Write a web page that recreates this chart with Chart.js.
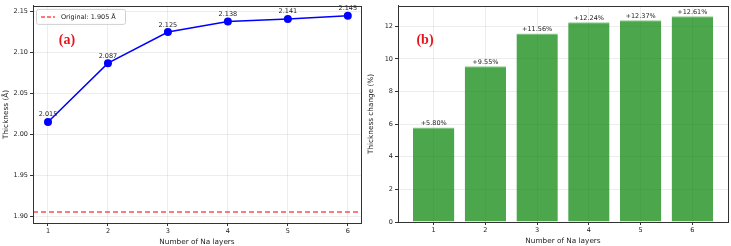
<!DOCTYPE html>
<html>
<head>
<meta charset="utf-8">
<script src="https://cdn.jsdelivr.net/npm/chart.js@4.4.0/dist/chart.umd.min.js"></script>
<style>
  html, body { margin: 0; padding: 0; background: #fff; }
  #wrap { width: 731px; height: 246px; display: flex; }
  .box { position: relative; height: 246px; }
</style>
</head>
<body>
<div id="wrap">
  <div class="box" style="width:365px"><canvas id="chartA"></canvas></div>
  <div class="box" style="width:366px"><canvas id="chartB"></canvas></div>
</div>
<script>
// データ
var layers = [1, 2, 3, 4, 5, 6];
var thickness = [2.015, 2.087, 2.125, 2.138, 2.141, 2.145];
var originalThickness = 1.905;
var changePct = [5.80, 9.55, 11.56, 12.24, 12.37, 12.61];
var ticksA = [1.90, 1.95, 2.00, 2.05, 2.10, 2.15];
var ticksB = [0, 2, 4, 6, 8, 10, 12];

var FONT = "'DejaVu Sans', sans-serif";
var AXIS = "#333";
var GRID = "rgba(0,0,0,0.07)";

// 枠線（四辺）
var framePlugin = {
    id: "frame",
    afterDraw: function (chart) {
        var a = chart.chartArea, c = chart.ctx;
        c.save();
        c.strokeStyle = AXIS;
        c.lineWidth = 1;
        c.strokeRect(Math.round(a.left) + 0.5, Math.round(a.top) + 0.5,
            Math.round(a.right - a.left), Math.round(a.bottom - a.top));
        c.restore();
    }
};

// 値ラベルとパネル記号
function labelPlugin(datasetIndex, fmt, offset, tag, tagX) {
    return {
        id: "labels" + tag,
        afterDatasetsDraw: function (chart) {
            var c = chart.ctx;
            var meta = chart.getDatasetMeta(datasetIndex);
            c.save();
            c.font = "6.5px " + FONT;
            c.fillStyle = "#222";
            c.textAlign = "center";
            c.textBaseline = "bottom";
            meta.data.forEach(function (el, i) {
                var v = chart.data.datasets[datasetIndex].data[i];
                var y = typeof v === "object" ? v.y : v;
                c.fillText(fmt(y), el.x, el.y - offset);
            });
            c.font = "bold 14px 'Liberation Serif', serif";
            c.fillStyle = "#e8141c";
            c.textBaseline = "middle";
            c.fillText(tag, tagX, 40);
            c.restore();
        }
    };
}

// 凡例（左図）
var legendPlugin = {
    id: "legendA",
    afterDraw: function (chart) {
        var a = chart.chartArea, c = chart.ctx;
        var x = a.left + 3, y = a.top + 3, w = 89, h = 15;
        c.save();
        c.fillStyle = "rgba(255,255,255,0.85)";
        c.strokeStyle = "#d0d0d0";
        c.lineWidth = 1;
        c.beginPath();
        c.roundRect(x + 0.5, y + 0.5, w, h, 2);
        c.fill();
        c.stroke();
        c.strokeStyle = "rgba(255,0,0,0.7)";
        c.lineWidth = 1.5;
        c.setLineDash([4, 2]);
        c.beginPath();
        c.moveTo(x + 5, y + 8);
        c.lineTo(x + 19, y + 8);
        c.stroke();
        c.setLineDash([]);
        c.fillStyle = "#222";
        c.font = "6.5px " + FONT;
        c.textBaseline = "middle";
        c.fillText("Original: " + originalThickness.toFixed(3) + " Å", x + 25, y + 8.5);
        c.restore();
    }
};

function axisCommon(title, ticks, fmt, width) {
    return {
        type: "linear",
        afterFit: function (s) { s.width = width; },
        afterBuildTicks: function (s) { s.ticks = ticks.map(function (v) { return { value: v }; }); },
        title: { display: true, text: title, color: "#222", font: { family: FONT, size: 7.3 }, padding: { top: 2, bottom: 2 } },
        ticks: { color: "#222", font: { family: FONT, size: 6.5 }, padding: 2, callback: fmt },
        grid: { color: GRID, tickColor: AXIS, tickLength: 3 },
        border: { color: AXIS }
    };
}

function xAxis(min, max) {
    return {
        type: "linear",
        min: min,
        max: max,
        offset: false,
        afterFit: function (s) { s.height = 23; },
        afterBuildTicks: function (s) { s.ticks = layers.map(function (v) { return { value: v }; }); },
        title: { display: true, text: "Number of Na layers", color: "#222", font: { family: FONT, size: 7.3 }, padding: { top: 0, bottom: 0 } },
        ticks: { color: "#222", font: { family: FONT, size: 6.5 }, padding: 1 },
        grid: { color: GRID, tickColor: AXIS, tickLength: 3, offset: false },
        border: { color: AXIS }
    };
}

var xMinA = 0.75, xMaxA = 6.22;
var yA = axisCommon("Thickness (Å)", ticksA, function (v) { return v.toFixed(2); }, 33);
yA.min = 1.8915;
yA.max = 2.157;

new Chart(document.getElementById("chartA"), {
    type: "line",
    data: {
        datasets: [
            {
                label: "thickness",
                data: layers.map(function (l, i) { return { x: l, y: thickness[i] }; }),
                borderColor: "#0000ff",
                backgroundColor: "#0000ff",
                borderWidth: 1.5,
                pointRadius: 4,
                pointBorderWidth: 0,
                tension: 0
            },
            {
                label: "original",
                data: [{ x: xMinA, y: originalThickness }, { x: xMaxA, y: originalThickness }],
                borderColor: "rgba(255,0,0,0.7)",
                borderWidth: 1.5,
                borderDash: [5, 3],
                pointRadius: 0
            }
        ]
    },
    options: {
        responsive: true,
        maintainAspectRatio: false,
        animation: false,
        layout: { padding: { top: 2, right: 2, left: 0, bottom: 0 } },
        plugins: { legend: { display: false }, tooltip: { enabled: false } },
        scales: { x: xAxis(xMinA, xMaxA), y: yA }
    },
    plugins: [framePlugin, legendPlugin, labelPlugin(0, function (v) { return v.toFixed(3); }, 4, "(a)", 67)]
});

var yB = axisCommon("Thickness change (%)", ticksB, function (v) { return v; }, 33);
yB.min = 0;
yB.max = 13.25;

new Chart(document.getElementById("chartB"), {
    type: "bar",
    data: {
        datasets: [
            {
                label: "change",
                data: layers.map(function (l, i) { return { x: l, y: changePct[i] }; }),
                backgroundColor: "rgba(0,128,0,0.7)",
                borderColor: "rgba(140,205,140,1)",
                borderWidth: { top: 1, left: 0, right: 0, bottom: 0 },
                borderSkipped: false,
                barPercentage: 0.8,
                categoryPercentage: 1.0
            }
        ]
    },
    options: {
        responsive: true,
        maintainAspectRatio: false,
        animation: false,
        layout: { padding: { top: 2, right: 3, left: 0, bottom: 1 } },
        plugins: { legend: { display: false }, tooltip: { enabled: false } },
        scales: { x: xAxis(0.31, 6.69), y: yB }
    },
    plugins: [framePlugin, labelPlugin(0, function (v) { return "+" + v.toFixed(2) + "%"; }, 1, "(b)", 60)]
});
</script>
</body>
</html>
